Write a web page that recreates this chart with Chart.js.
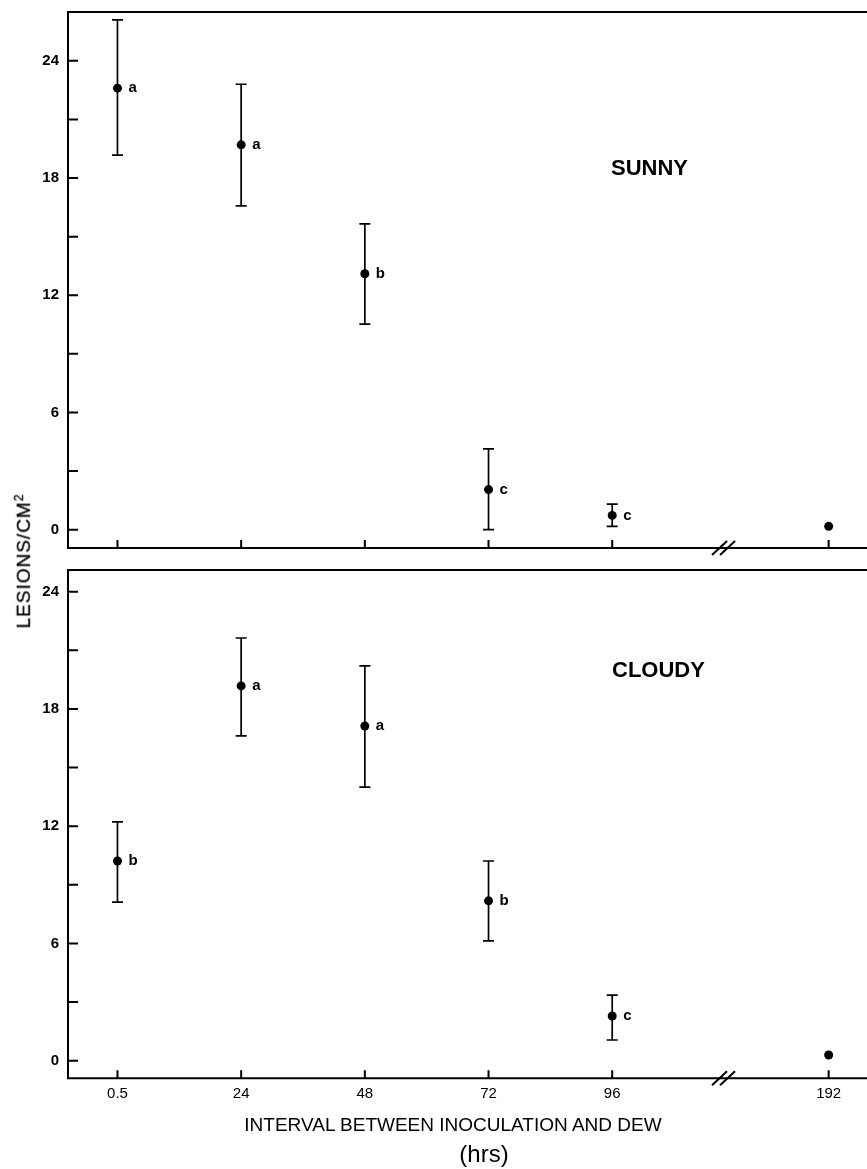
<!DOCTYPE html>
<html>
<head>
<meta charset="utf-8">
<script src="https://cdn.jsdelivr.net/npm/chart.js@4.4.1/dist/chart.umd.min.js"></script>
<style>
  body { margin: 0; background: #fff; width: 867px; height: 1169px; overflow: hidden; position: relative; font-family: "Liberation Sans", Arial, sans-serif; color: #000; }
  canvas { position: absolute; left: 0; }
  .txt { position: absolute; white-space: nowrap; line-height: 1; }
  #sunny, #cloudy { font-weight: bold; font-size: 22px; }
  #xtitle { font-size: 19px; transform: translateX(-50%); }
  #hrs { font-size: 24px; transform: translateX(-50%); }
  #ytitle { font-size: 19px; letter-spacing: 1px; transform: translate(-50%, -50%) rotate(-90deg); -webkit-text-stroke: 0.3px #000; }
  #ytitle sup { font-size: 12px; }
</style>
</head>
<body>
<canvas id="sunny-chart" width="867" height="560" style="top:0"></canvas>
<canvas id="cloudy-chart" width="867" height="609" style="top:560px"></canvas>
<div class="txt" id="sunny" style="left:611px; top:157px">SUNNY</div>
<div class="txt" id="cloudy" style="left:612px; top:659px">CLOUDY</div>
<div class="txt" id="ytitle" style="left:23px; top:561px">LESIONS/CM<sup>2</sup></div>
<div class="txt" id="xtitle" style="left:453px; top:1115px">INTERVAL BETWEEN INOCULATION AND DEW</div>
<div class="txt" id="hrs" style="left:484px; top:1142px">(hrs)</div>
<script>
// hours after inoculation before dew (x categories)
const hours = ['0.5', '24', '48', '72', '96', '192'];

// sunny panel
const sunnyMean = [22.6, 19.7, 13.1, 2.05, 0.73, 0.17];
const sunnyHigh = [26.1, 22.8, 15.65, 4.13, 1.31, null];
const sunnyLow = [19.17, 16.57, 10.52, 0.0, 0.17, null];
const sunnyLetters = ['a', 'a', 'b', 'c', 'c', ''];

// cloudy panel
const cloudyMean = [10.22, 19.18, 17.13, 8.18, 2.29, 0.29];
const cloudyHigh = [12.22, 21.63, 20.2, 10.22, 3.36, null];
const cloudyLow = [8.12, 16.62, 14.0, 6.13, 1.06, null];
const cloudyLetters = ['b', 'a', 'a', 'b', 'c', ''];

const yTicks = [0, 3, 6, 9, 12, 15, 18, 21, 24];

const INK = '#000';
const BREAK_AFTER = 4;   // axis is broken after the 96 h slot
const BREAK_GAP = 0.75;

function slotOf(i) {
    return i <= BREAK_AFTER ? i : i + BREAK_GAP;
}

// axes frame, inward ticks, axis break, error bars and letters
const framePlugin = {
    id: 'frame',
    beforeDatasetsDraw(chart, args, opts) {
        const {ctx, chartArea: a, scales: {x, y}} = chart;
        ctx.save();
        ctx.strokeStyle = INK;
        ctx.lineCap = 'butt';

        ctx.lineWidth = 1.7;
        opts.high.forEach((hi, i) => {
            if (hi == null) return;
            const px = x.getPixelForValue(slotOf(i));
            const top = y.getPixelForValue(hi);
            const bot = y.getPixelForValue(opts.low[i]);
            ctx.beginPath();
            ctx.moveTo(px, top); ctx.lineTo(px, bot);
            ctx.moveTo(px - 5.5, top); ctx.lineTo(px + 5.5, top);
            ctx.moveTo(px - 5.5, bot); ctx.lineTo(px + 5.5, bot);
            ctx.stroke();
        });

        ctx.lineWidth = 2;
        ctx.beginPath();
        ctx.moveTo(a.right, a.top); ctx.lineTo(a.left, a.top);
        ctx.lineTo(a.left, a.bottom); ctx.lineTo(a.right, a.bottom);
        ctx.stroke();

        ctx.beginPath();
        y.ticks.forEach(t => {
            const py = y.getPixelForValue(t.value);
            ctx.moveTo(a.left, py); ctx.lineTo(a.left + 10, py);
        });
        x.ticks.forEach(t => {
            const px = x.getPixelForValue(t.value);
            ctx.moveTo(px, a.bottom); ctx.lineTo(px, a.bottom - 8);
        });
        ctx.stroke();

        const bx = x.getPixelForValue(BREAK_AFTER + 0.9);
        ctx.beginPath();
        [-4, 4].forEach(d => {
            ctx.moveTo(bx + d - 7.5, a.bottom + 7);
            ctx.lineTo(bx + d + 7.5, a.bottom - 7);
        });
        ctx.stroke();
        ctx.restore();
    },
    afterDatasetsDraw(chart, args, opts) {
        const {ctx, scales: {x, y}} = chart;
        ctx.save();
        ctx.fillStyle = INK;
        ctx.font = 'bold 15px "Liberation Sans", Arial, sans-serif';
        ctx.textBaseline = 'middle';
        opts.letters.forEach((l, i) => {
            if (!l) return;
            ctx.fillText(l, x.getPixelForValue(slotOf(i)) + 11, y.getPixelForValue(opts.mean[i]));
        });
        ctx.restore();
    }
};

function makePanel(canvasId, mean, high, low, letters, yMin, yMax, padTop, xHeight, showXLabels) {
    return new Chart(document.getElementById(canvasId), {
        type: 'scatter',
        data: {
            datasets: [{
                data: mean.map((v, i) => ({x: slotOf(i), y: v})),
                pointRadius: 4.5,
                pointHoverRadius: 4.5,
                backgroundColor: INK,
                borderWidth: 0
            }]
        },
        options: {
            responsive: false,
            animation: false,
            layout: {autoPadding: false, padding: {top: padTop, right: 0, bottom: showXLabels ? 0 : 12, left: 0}},
            plugins: {
                legend: {display: false},
                tooltip: {enabled: false},
                frame: {mean: mean, high: high, low: low, letters: letters}
            },
            scales: {
                x: {
                    type: 'linear',
                    min: -0.4,
                    max: 6.06,
                    grid: {display: false, drawTicks: false},
                    border: {display: false},
                    afterBuildTicks: axis => {
                        axis.ticks = hours.map((h, i) => ({value: slotOf(i)}));
                    },
                    ticks: {
                        display: showXLabels,
                        padding: 7,
                        color: INK,
                        font: {family: '"Liberation Sans", Arial, sans-serif', size: 15},
                        callback: (v, i) => hours[i]
                    },
                    afterFit: axis => {
                        axis.height = xHeight;
                        axis.paddingLeft = 0;
                        axis.paddingRight = 0;
                    }
                },
                y: {
                    min: yMin,
                    max: yMax,
                    grid: {display: false, drawTicks: false},
                    border: {display: false},
                    afterBuildTicks: axis => {
                        axis.ticks = yTicks.map(v => ({value: v}));
                    },
                    ticks: {
                        padding: 9,
                        color: INK,
                        font: {family: '"Liberation Sans", Arial, sans-serif', size: 15, weight: 'bold'},
                        callback: v => (v % 6 === 0 ? String(v) : '')
                    },
                    afterFit: axis => {
                        axis.width = 68;
                        axis.paddingTop = 0;
                        axis.paddingBottom = 0;
                    }
                }
            }
        },
        plugins: [framePlugin]
    });
}

makePanel('sunny-chart', sunnyMean, sunnyHigh, sunnyLow, sunnyLetters, -0.94, 26.5, 12, 0, false);
makePanel('cloudy-chart', cloudyMean, cloudyHigh, cloudyLow, cloudyLetters, -0.9, 25.11, 10, 90.7, true);
</script>
</body>
</html>
